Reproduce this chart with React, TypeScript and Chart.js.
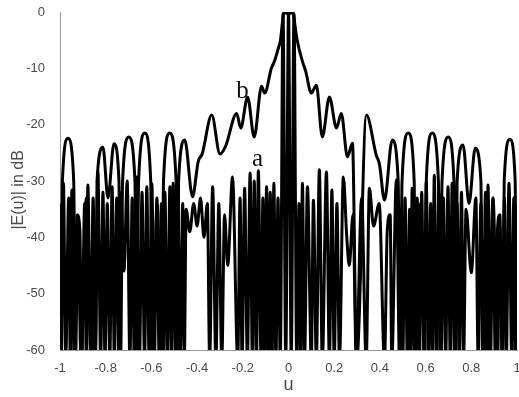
import React, { useEffect, useRef } from "react";
import { Chart, registerables } from "chart.js";

Chart.register(...registerables);

// Curve a: alternating lobe peaks and nulls (u, dB)
const aU = [
  -1.0, -0.995, -0.985, -0.975, -0.962, -0.955, -0.948, -0.938, -0.925, -0.913,
  -0.905, -0.892, -0.885, -0.878, -0.866, -0.855, -0.845, -0.834, -0.822, -0.812,
  -0.803, -0.793, -0.782, -0.772, -0.762, -0.752, -0.742, -0.733, -0.72, -0.706,
  -0.694, -0.684, -0.675, -0.664, -0.652, -0.641, -0.63, -0.62, -0.61, -0.598,
  -0.587, -0.576, -0.566, -0.556, -0.548, -0.541, -0.53, -0.519, -0.512, -0.505,
  -0.494, -0.484, -0.474, -0.463, -0.456, -0.448, -0.432, -0.415, -0.4, -0.385,
  -0.37, -0.355, -0.345, -0.332, -0.318, -0.305, -0.292, -0.28, -0.266, -0.245,
  -0.222, -0.212, -0.203, -0.192, -0.18, -0.168, -0.158, -0.15, -0.14, -0.132,
  -0.12, -0.112, -0.104, -0.096, -0.088, -0.08, -0.072, -0.064, -0.055, -0.046,
  -0.036, -0.024, -0.012, 0.0,
  0.012, 0.024, 0.036, 0.046, 0.053, 0.061, 0.07, 0.083, 0.1, 0.109,
  0.122, 0.135, 0.148, 0.166, 0.179, 0.19, 0.2, 0.212, 0.223, 0.24,
  0.255, 0.266, 0.282, 0.297, 0.32, 0.34, 0.354, 0.372, 0.397, 0.42,
  0.432, 0.445, 0.452, 0.472, 0.486, 0.493, 0.5, 0.51, 0.52, 0.53,
  0.535, 0.541, 0.552, 0.563, 0.573, 0.583, 0.593, 0.603, 0.613, 0.622,
  0.63, 0.638, 0.648, 0.658, 0.668, 0.678, 0.688, 0.698, 0.708, 0.716,
  0.727, 0.738, 0.747, 0.757, 0.766, 0.777, 0.8, 0.82, 0.83, 0.842,
  0.852, 0.862, 0.868, 0.873, 0.884, 0.895, 0.905, 0.915, 0.925, 0.935,
  0.945, 0.953, 0.965, 0.977, 0.986, 0.994, 1.0,
];
const aDb = [
  -34, -62, -30.4, -62, -33, -62, -31.6, -62, -36, -38.7,
  -62, -34, -62, -30.7, -62, -33, -62, -28.4, -62, -32,
  -62, -34, -62, -31, -62, -33, -62, -32, -46, -30,
  -62, -33, -62, -29.3, -62, -32, -62, -31, -62, -30.5,
  -62, -33, -62, -34, -62, -32, -62, -31, -62, -30.4,
  -62, -33, -62, -34, -62, -35, -39, -34, -38, -33,
  -40, -34, -62, -31, -62, -34, -62, -36, -45, -29.3,
  -62, -33, -62, -31.3, -62, -28.6, -62, -30, -62, -28.2,
  -62, -33, -62, -31, -62, -32, -62, -30.4, -62, -33,
  -62, -0.3, -62, 0,
  -62, -0.3, -62, -34, -62, -30.4, -62, -31, -62, -33.4,
  -62, -28, -62, -28.4, -62, -31.6, -62, -34, -62, -29.3,
  -40, -45, -36, -62, -33, -62, -31.3, -38, -34, -62,
  -39, -36, -62, -29.8, -62, -35, -62, -33, -62, -35,
  -62, -31.3, -62, -33, -62, -32, -62, -30.2, -62, -34,
  -62, -29, -62, -32, -62, -33, -62, -31, -62, -30.4,
  -62, -34, -62, -32, -62, -35, -46.3, -33, -62, -34,
  -62, -32, -62, -30.7, -62, -33, -62, -38.3, -36, -62,
  -33, -62, -30.4, -62, -33, -62, -34,
];

// Curve b: broader beam with higher, wide sidelobes (u, dB)
const bU = [
  -1.0, -0.995, -0.99, -0.965, -0.94, -0.932, -0.922, -0.908, -0.885, -0.862,
  -0.852, -0.845, -0.838, -0.812, -0.79, -0.764, -0.742, -0.735, -0.726, -0.699,
  -0.672, -0.665, -0.656, -0.629, -0.603, -0.595, -0.575, -0.555, -0.547, -0.52,
  -0.492, -0.487, -0.481, -0.454, -0.42, -0.395, -0.378, -0.336, -0.3, -0.275,
  -0.227, -0.209, -0.179, -0.15, -0.118, -0.104, -0.075, -0.062, -0.045, -0.035,
  -0.027, -0.02, 0.0,
  0.02, 0.027, 0.038, 0.062, 0.075, 0.1, 0.122, 0.148, 0.179, 0.21,
  0.231, 0.258, 0.28, 0.298, 0.341, 0.384, 0.398, 0.42, 0.454, 0.48,
  0.488, 0.497, 0.524, 0.55, 0.556, 0.577, 0.597, 0.603, 0.629, 0.656,
  0.664, 0.672, 0.699, 0.724, 0.731, 0.738, 0.764, 0.79, 0.817, 0.842,
  0.85, 0.862, 0.875, 0.895, 0.915, 0.925, 0.937, 0.944, 0.969, 0.992,
  0.997, 1.0,
];
const bDb = [
  -40, -62, -30.5, -22.4, -30, -62, -38, -62, -33, -62,
  -40, -62, -30, -24, -33, -23.4, -30, -62, -30, -22.2,
  -30, -62, -30, -21.5, -30, -62, -34, -62, -30, -21.5,
  -30, -62, -30, -22.7, -32.8, -26.5, -25.2, -18.3, -25.2, -23.8,
  -18, -20.6, -15.1, -22.2, -13.2, -14.4, -10, -8.8, -6.5, -5,
  -2, 0, -0.4,
  0, -2, -5, -8.9, -10.5, -14.4, -13, -22.2, -15.1, -20.6,
  -18, -25.7, -23.3, -62, -18.3, -25.4, -27, -33.4, -22.7, -30,
  -62, -30, -21.5, -30, -62, -34, -62, -30, -21.5, -30,
  -62, -30, -22.2, -30, -62, -30, -23.6, -34, -24.2, -30,
  -62, -40, -62, -33, -62, -38, -62, -30, -22.6, -30,
  -62, -45,
];

const xTickStep = 0.2;
const yTickStep = 10;
const xTitle = "u";
const yTitle = "|E(u)| in dB    ";
const labelB = { text: "b", u: -0.201, db: -15.3 };
const labelA = { text: "a", u: -0.135, db: -27.3 };

const textColor = "#4a4a4a";
const axisColor = "#9a9a9a";
const sans = "'Liberation Sans', Arial, Helvetica, sans-serif";

const curveLabels = {
  id: "curveLabels",
  afterDatasetsDraw(chart: any) {
    const { ctx, scales } = chart;
    ctx.save();
    ctx.fillStyle = "#111";
    ctx.font = "25px 'Liberation Serif', 'Times New Roman', serif";
    ctx.textAlign = "center";
    ctx.textBaseline = "alphabetic";
    for (const l of [labelB, labelA]) {
      ctx.fillText(l.text, scales.x.getPixelForValue(l.u), scales.y.getPixelForValue(l.db));
    }
    ctx.restore();
  },
};

export default function App() {
  const ref = useRef<HTMLCanvasElement | null>(null);
  useEffect(() => {
    if (!ref.current) return;
    const mk = (us: number[], ds: number[]) => us.map((u, i) => ({ x: u, y: ds[i] }));
    const chart = new Chart(ref.current, {
      type: "line",
      data: {
        datasets: [
          {
            data: mk(aU, aDb),
            borderColor: "#000",
            borderWidth: 3,
            pointRadius: 0,
            cubicInterpolationMode: "monotone",
            fill: false,
          },
          {
            data: mk(bU, bDb),
            borderColor: "#000",
            borderWidth: 3,
            pointRadius: 0,
            cubicInterpolationMode: "monotone",
            fill: false,
          },
        ],
      },
      options: {
        animation: false,
        responsive: false,
        maintainAspectRatio: false,
        layout: { padding: { left: 0, right: 2, top: 12, bottom: 0 } },
        plugins: { legend: { display: false }, tooltip: { enabled: false } },
        scales: {
          x: {
            type: "linear",
            min: -1,
            max: 1,
            grid: { display: false },
            border: { display: true, color: axisColor, width: 1 },
            ticks: {
              stepSize: xTickStep,
              color: textColor,
              font: { family: sans, size: 13 },
              padding: 3,
              maxRotation: 0,
              autoSkip: false,
              callback: (v: any) => String(Math.round(Number(v) * 10) / 10),
            },
            title: {
              display: true,
              text: xTitle,
              color: textColor,
              font: { family: sans, size: 18 },
              padding: { top: 0, bottom: 1 },
            },
            afterFit: (s: any) => {
              s.height = 47;
              s.paddingLeft = 0;
              s.paddingRight = 0;
            },
          },
          y: {
            type: "linear",
            min: -60,
            max: 0,
            grid: { display: false },
            border: { display: true, color: axisColor, width: 1 },
            ticks: {
              stepSize: yTickStep,
              color: textColor,
              font: { family: sans, size: 13 },
              padding: 7,
            },
            title: {
              display: true,
              text: yTitle,
              color: textColor,
              font: { family: sans, size: 16 },
              padding: { top: 9, bottom: 0 },
            },
            afterFit: (s: any) => {
              s.width = 60;
              s.paddingTop = 0;
              s.paddingBottom = 0;
            },
          },
        },
      },
      plugins: [curveLabels],
    });
    return () => chart.destroy();
  }, []);
  return (
    <div style={{ position: "absolute", left: 0, top: 0, width: 519, height: 397, background: "#fff" }}>
      <canvas ref={ref} width={519} height={397} style={{ width: 519, height: 397 }} />
    </div>
  );
}
